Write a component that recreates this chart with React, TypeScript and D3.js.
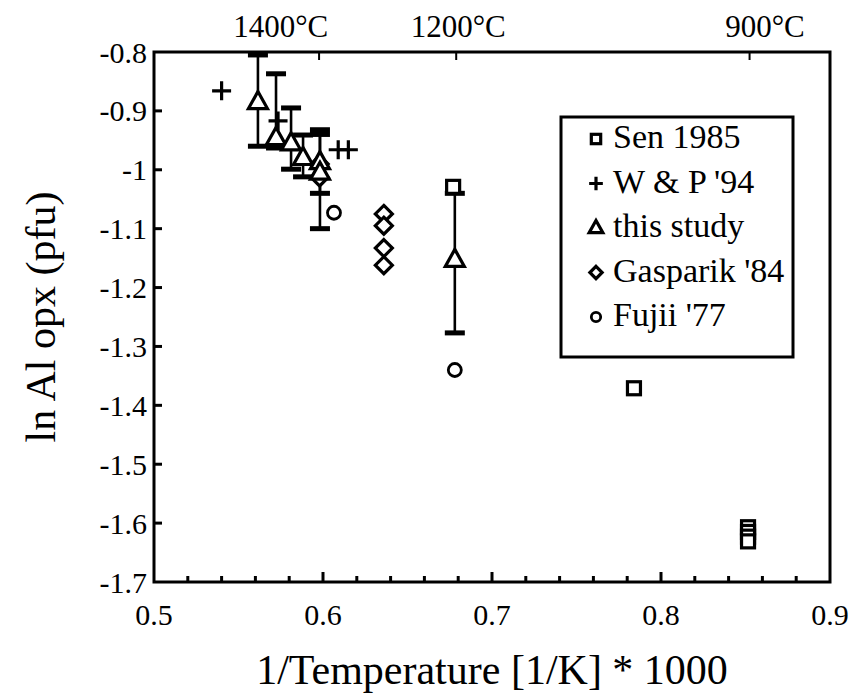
import React from "react";
import * as d3 from "d3";

const xTickValues = [0.5, 0.6, 0.7, 0.8, 0.9];
const xTickLabels = ["0.5", "0.6", "0.7", "0.8", "0.9"];
const xMinorTicks = [0.52, 0.54, 0.56, 0.58, 0.62, 0.64, 0.66, 0.68, 0.72, 0.74, 0.76, 0.78, 0.82, 0.84, 0.86, 0.88];
const yTickValues = [-0.8, -0.9, -1.0, -1.1, -1.2, -1.3, -1.4, -1.5, -1.6, -1.7];
const yTickLabels = ["-0.8", "-0.9", "-1", "-1.1", "-1.2", "-1.3", "-1.4", "-1.5", "-1.6", "-1.7"];

const tempCelsius = [1400, 1200, 900];
const tempLabels = ["1400°C", "1200°C", "900°C"];
const tempLabelX = [0.575, 0.680, 0.8615];

const senX = [0.677, 0.784, 0.8515, 0.8515, 0.8515, 0.8515];
const senY = [-1.029, -1.371, -1.607, -1.615, -1.623, -1.631];

const wpX = [0.54, 0.5734, 0.609, 0.615];
const wpY = [-0.866, -0.917, -0.966, -0.966];

const studyX = [0.5615, 0.5722, 0.5811, 0.5882, 0.5982, 0.5982, 0.678];
const studyY = [-0.885, -0.946, -0.955, -0.98, -0.987, -1.005, -1.153];
const studyHi = [-0.805, -0.837, -0.895, -0.941, -0.932, -0.94, -1.04];
const studyLo = [-0.96, -0.963, -0.999, -1.012, -1.04, -1.1, -1.277];

const gasX = [0.598, 0.598, 0.636, 0.636, 0.636, 0.636];
const gasY = [-0.99, -1.013, -1.075, -1.095, -1.133, -1.162];

const fujiiX = [0.6065, 0.678];
const fujiiY = [-1.073, -1.34];

const legendLabels = ["Sen 1985", "W & P '94", "this study", "Gasparik '84", "Fujii '77"];
const legendKinds = ["square", "cross", "triangle", "diamond", "circle"];

const W = 852;
const H = 693;
const M = { left: 154, right: 830, top: 52, bottom: 582 };
const FONT = "Liberation Serif, DejaVu Serif, serif";

function Marker({ kind, cx, cy, s = 1 }: { kind: string; cx: number; cy: number; s?: number }) {
  const sw = 3.2;
  if (kind === "square") {
    const h = 6.5 * s;
    return <rect x={cx - h} y={cy - h} width={2 * h} height={2 * h} fill="#fff" stroke="#000" strokeWidth={sw} />;
  }
  if (kind === "cross") {
    const a = 9.5 * s;
    return (
      <path d={`M${cx - a},${cy}H${cx + a}M${cx},${cy - a}V${cy + a}`} stroke="#000" strokeWidth={sw} fill="none" />
    );
  }
  if (kind === "triangle") {
    const d = `M${cx},${cy - 10.5 * s}L${cx + 9.5 * s},${cy + 6.5 * s}L${cx - 9.5 * s},${cy + 6.5 * s}Z`;
    return <path d={d} fill="#fff" stroke="#000" strokeWidth={sw} strokeLinejoin="miter" />;
  }
  if (kind === "diamond") {
    const a = 8.5 * s;
    const d = `M${cx},${cy - a}L${cx + a},${cy}L${cx},${cy + a}L${cx - a},${cy}Z`;
    return <path d={d} fill="#fff" stroke="#000" strokeWidth={sw} />;
  }
  return <circle cx={cx} cy={cy} r={6.5 * s} fill="#fff" stroke="#000" strokeWidth={2.8} />;
}

export default function App() {
  const x = d3.scaleLinear().domain([0.5, 0.9]).range([M.left, M.right]);
  const y = d3.scaleLinear().domain([-0.8, -1.7]).range([M.top, M.bottom]);

  const legendX = 561;
  const legendY = 117;
  const legendW = 232;
  const legendH = 240;

  return (
    <svg
      width={W}
      height={H}
      style={{ position: "absolute", left: 0, top: 0, background: "#fff", fontFamily: FONT }}
    >
      <rect x={0} y={0} width={W} height={H} fill="#fff" />

      {/* y ticks */}
      {yTickValues.map((v, i) => (
        <g key={"yt" + i}>
          {i > 0 && i < yTickValues.length - 1 && (
            <line x1={M.left} x2={M.left + 8} y1={y(v)} y2={y(v)} stroke="#000" strokeWidth={3} />
          )}
          <text x={M.left - 7} y={y(v)} dy="0.35em" textAnchor="end" fontSize={30} style={{ fontFamily: FONT }}>
            {yTickLabels[i]}
          </text>
        </g>
      ))}

      {/* x ticks */}
      {xMinorTicks.map((v, i) => (
        <line key={"xm" + i} x1={x(v)} x2={x(v)} y1={M.bottom} y2={M.bottom - 6} stroke="#000" strokeWidth={3} />
      ))}
      {xTickValues.map((v, i) => (
        <g key={"xt" + i}>
          {i > 0 && i < xTickValues.length - 1 && (
            <line x1={x(v)} x2={x(v)} y1={M.bottom} y2={M.bottom - 10} stroke="#000" strokeWidth={3} />
          )}
          <text x={x(v)} y={625} textAnchor="middle" fontSize={30} style={{ fontFamily: FONT }}>
            {xTickLabels[i]}
          </text>
        </g>
      ))}

      {/* top temperature ticks and labels */}
      {tempCelsius.map((t, i) => (
        <g key={"tt" + i}>
          <line
            x1={x(1000 / (t + 273.15))}
            x2={x(1000 / (t + 273.15))}
            y1={M.top}
            y2={M.top + 8}
            stroke="#000"
            strokeWidth={2}
          />
          <text x={x(tempLabelX[i])} y={37} textAnchor="middle" fontSize={31} style={{ fontFamily: FONT }}>
            {tempLabels[i]}
          </text>
        </g>
      ))}

      {/* frame */}
      <rect
        x={M.left}
        y={M.top}
        width={M.right - M.left}
        height={M.bottom - M.top}
        fill="none"
        stroke="#000"
        strokeWidth={3}
      />

      {/* error bars */}
      {studyX.map((v, i) => (
        <g key={"eb" + i}>
          <line x1={x(v)} x2={x(v)} y1={y(studyHi[i])} y2={y(studyLo[i])} stroke="#000" strokeWidth={2.6} />
          <rect x={x(v) - 10} y={y(studyHi[i]) - 2.5} width={20} height={5} fill="#000" />
          <rect x={x(v) - 10} y={y(studyLo[i]) - 2.5} width={20} height={5} fill="#000" />
        </g>
      ))}

      {/* Gasparik '84 */}
      {gasX.map((v, i) => (
        <Marker key={"g" + i} kind="diamond" cx={x(v)} cy={y(gasY[i])} />
      ))}
      {/* Sen 1985 */}
      {senX.map((v, i) => (
        <Marker key={"s" + i} kind="square" cx={x(v)} cy={y(senY[i])} />
      ))}
      {/* W & P '94 */}
      {wpX.map((v, i) => (
        <Marker key={"w" + i} kind="cross" cx={x(v)} cy={y(wpY[i])} />
      ))}
      {/* Fujii '77 */}
      {fujiiX.map((v, i) => (
        <Marker key={"f" + i} kind="circle" cx={x(v)} cy={y(fujiiY[i])} />
      ))}
      {/* this study */}
      {studyX.map((v, i) => (
        <Marker key={"t" + i} kind="triangle" cx={x(v)} cy={y(studyY[i])} />
      ))}

      {/* legend */}
      <rect x={legendX} y={legendY} width={legendW} height={legendH} fill="#fff" stroke="#000" strokeWidth={3} />
      {legendLabels.map((lab, i) => {
        const base = 148 + i * 44.5;
        return (
          <g key={"lg" + i}>
            <Marker kind={legendKinds[i]} cx={596} cy={base - 9} s={0.72} />
            <text x={613} y={base} fontSize={34} style={{ fontFamily: FONT }}>
              {lab}
            </text>
          </g>
        );
      })}

      {/* axis titles */}
      <text x={(M.left + M.right) / 2} y={684} textAnchor="middle" fontSize={42} style={{ fontFamily: FONT }}>
        1/Temperature [1/K] * 1000
      </text>
      <text
        transform={`translate(40, ${(M.top + M.bottom) / 2}) rotate(-90)`}
        textAnchor="middle"
        dy="0.35em"
        fontSize={42}
        style={{ fontFamily: FONT }}
      >
        ln Al opx (pfu)
      </text>
    </svg>
  );
}
